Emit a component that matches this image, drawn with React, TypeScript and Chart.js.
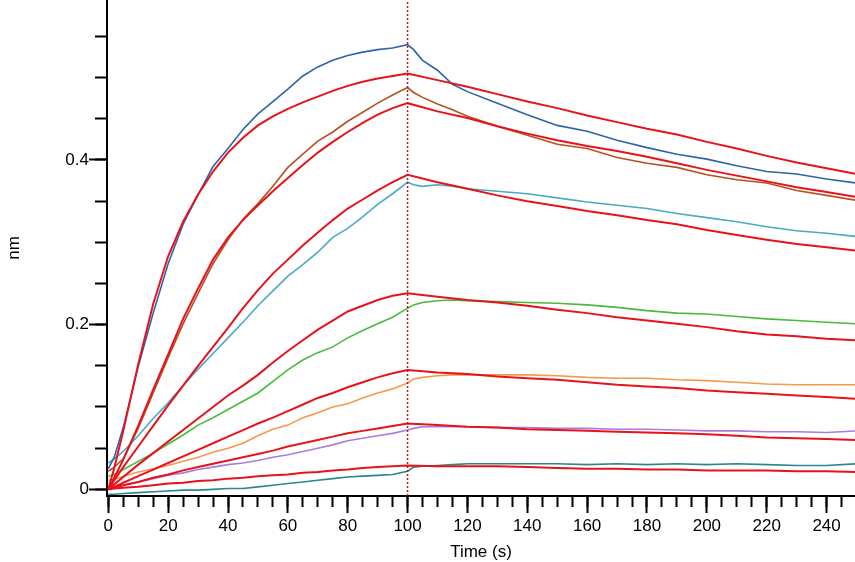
import React, { useEffect, useRef } from 'react';
import { Chart, registerables } from 'chart.js';

Chart.register(...registerables);

// ---- axis ranges / ticks ----
const X_MIN = -0.43;
const X_MAX = 249.5;
const Y_MIN = -0.0081;
const Y_MAX = 0.5943;
const X_MINOR_STEP = 5;
const X_MAJOR_STEP = 20;
const Y_MINOR_STEP = 0.05;
const Y_MAJOR_STEP = 0.2;
const X_TITLE = 'Time (s)';
const Y_TITLE = 'nm';
const STEP_TIME = 100; // association -> dissociation switch

// ---- fitted curves (red) ----
const FIT_T = [0, 2, 5, 10, 15, 20, 25, 30, 35, 40, 45, 50, 55, 60, 65, 70, 75, 80, 85, 90, 95, 100,
  110, 120, 130, 140, 150, 160, 170, 180, 190, 200, 210, 220, 230, 240, 250];
const fit1 = [0, .026, .071, .152, .225, .283, .325, .358, .386, .409, .427, .442, .453, .462, .470, .477, .484, .490, .495, .499, .502, .505,
  .497, .489, .480, .471, .463, .454, .446, .438, .431, .422, .414, .405, .397, .390, .383];
const fit2 = [0, .014, .036, .077, .121, .164, .207, .244, .279, .306, .327, .345, .362, .378, .394, .409, .422, .434, .445, .455, .463, .469,
  .459, .451, .441, .432, .424, .417, .411, .404, .396, .388, .381, .374, .367, .361, .355];
const fit3 = [0, .011, .027, .052, .077, .102, .126, .150, .173, .196, .220, .242, .262, .279, .296, .312, .327, .341, .352, .363, .373, .382,
  .373, .365, .357, .350, .344, .338, .333, .327, .322, .315, .309, .303, .298, .294, .290];
const fit4 = [0, .006, .015, .030, .044, .058, .072, .086, .100, .114, .126, .139, .154, .168, .181, .194, .205, .216, .223, .230, .235, .238,
  .234, .230, .227, .223, .218, .214, .209, .205, .201, .197, .192, .188, .186, .183, .181];
const fit5 = [0, .003, .008, .016, .024, .032, .040, .048, .056, .064, .072, .080, .087, .095, .103, .111, .117, .124, .130, .136, .141, .145,
  .142, .140, .137, .135, .133, .130, .127, .125, .123, .120, .118, .116, .114, .112, .110];
const fit6 = [0, .002, .005, .009, .014, .018, .023, .027, .031, .035, .039, .043, .047, .052, .056, .060, .064, .068, .071, .074, .077, .080,
  .078, .076, .075, .073, .072, .071, .070, .069, .068, .067, .065, .063, .062, .061, .060];
const fit7 = [0, .001, .002, .003, .005, .007, .008, .010, .011, .013, .014, .016, .017, .018, .020, .021, .023, .024, .026, .027, .028, .029,
  .028, .028, .028, .027, .026, .025, .025, .024, .024, .023, .023, .023, .022, .022, .021];

// ---- measured curves ----
const MEAS_T = [0, 2, 5, 10, 15, 20, 25, 30, 35, 40, 45, 50, 55, 60, 65, 70, 75, 80, 85, 90, 95, 100,
  102, 105, 110, 115, 120, 130, 140, 150, 160, 170, 180, 190, 200, 210, 220, 230, 240, 250];
const blue = [.025, .039, .075, .149, .214, .274, .322, .358, .392, .414, .437, .456, .471, .486, .502, .513, .521, .527, .531, .534, .536, .540,
  .534, .521, .509, .492, .483, .469, .455, .442, .435, .424, .415, .407, .401, .393, .386, .383, .377, .372];
const brown = [.022, .027, .037, .074, .117, .160, .201, .238, .274, .303, .328, .347, .368, .391, .407, .423, .434, .447, .458, .469, .479, .488,
  .482, .476, .468, .461, .453, .441, .430, .419, .414, .403, .396, .391, .382, .376, .372, .363, .357, .351];
const cyan = [.032, .037, .046, .065, .086, .105, .126, .146, .165, .184, .203, .223, .241, .259, .273, .288, .306, .317, .331, .346, .359, .373,
  .370, .368, .370, .368, .365, .362, .359, .354, .349, .345, .341, .335, .330, .325, .319, .314, .311, .307];
const green = [.016, .018, .024, .034, .044, .055, .066, .078, .087, .097, .107, .117, .131, .145, .157, .166, .173, .184, .193, .201, .209, .220,
  .224, .227, .229, .230, .229, .228, .227, .226, .224, .221, .217, .214, .213, .210, .207, .205, .203, .201];
const orange = [.011, .012, .016, .021, .025, .029, .034, .039, .045, .050, .056, .065, .073, .078, .087, .093, .100, .104, .111, .117, .122, .129,
  .134, .136, .138, .139, .139, .139, .139, .138, .136, .135, .135, .133, .132, .130, .128, .127, .127, .127];
const purple = [.003, .003, .005, .009, .013, .017, .020, .024, .027, .030, .032, .035, .039, .042, .046, .050, .054, .059, .062, .065, .068, .072,
  .074, .076, .076, .076, .076, .075, .075, .074, .074, .073, .073, .072, .071, .071, .070, .070, .069, .071];
const teal = [-.006, -.006, -.005, -.004, -.003, -.002, -.001, -.001, 0, .001, .001, .003, .005, .007, .009, .011, .013, .015, .016, .017, .018, .022,
  .027, .028, .029, .030, .031, .031, .031, .031, .030, .031, .030, .031, .030, .031, .030, .029, .029, .031];

const FITS = [fit1, fit2, fit3, fit4, fit5, fit6, fit7];
const MEASURED = [blue, brown, cyan, green, orange, purple, teal];
const MEAS_COLORS = ['#2f62ad', '#b4521f', '#4aaac2', '#48bb3a', '#f5994a', '#a87ddf', '#2b8789'];
const FIT_COLOR = '#e8121a';
const STEP_COLOR = '#b4161b';

export default function App() {
  const ref = useRef<HTMLCanvasElement>(null);

  useEffect(() => {
    const canvas = ref.current;
    if (!canvas) return;
    Chart.defaults.font.family = "'Liberation Sans', Arial, sans-serif";
    Chart.defaults.color = '#000';

    const toPts = (ts: number[], vs: number[]) => ts.map((t, i) => ({ x: t, y: vs[i] }));

    const datasets: any[] = [];
    datasets.push({
      data: [{ x: STEP_TIME, y: Y_MIN }, { x: STEP_TIME, y: Y_MAX }],
      borderColor: STEP_COLOR,
      borderWidth: 1.5,
      borderDash: [2, 2],
      pointRadius: 0,
      fill: false,
    });
    FITS.forEach((f) => {
      datasets.push({
        data: toPts(FIT_T, f),
        borderColor: FIT_COLOR,
        borderWidth: 2,
        pointRadius: 0,
        tension: 0,
        fill: false,
      });
    });
    MEASURED.forEach((m, i) => {
      datasets.push({
        data: toPts(MEAS_T, m),
        borderColor: MEAS_COLORS[i],
        borderWidth: 1.6,
        pointRadius: 0,
        tension: 0,
        fill: false,
      });
    });

    const tickFont = { size: 17, family: "'Liberation Sans', Arial, sans-serif" };
    const noPad = (s: any) => { s.paddingTop = 0; s.paddingBottom = 0; s.paddingLeft = 0; s.paddingRight = 0; };

    const chart = new Chart(canvas, {
      type: 'line',
      data: { datasets },
      options: {
        responsive: false,
        animation: false,
        events: [],
        layout: { padding: 0 },
        plugins: { legend: { display: false }, tooltip: { enabled: false } },
        scales: {
          x: {
            type: 'linear', position: 'bottom', min: X_MIN, max: X_MAX, weight: 0,
            ticks: { display: false, stepSize: X_MINOR_STEP, includeBounds: false },
            grid: { drawOnChartArea: false, drawTicks: true, tickLength: 11, tickWidth: 2, tickColor: '#000' },
            border: { display: false },
            afterFit: (s: any) => { s.height = 0; noPad(s); },
          },
          x2: {
            type: 'linear', position: 'bottom', min: X_MIN, max: X_MAX, weight: 1,
            ticks: { stepSize: X_MAJOR_STEP, includeBounds: false, autoSkip: false, maxRotation: 0, padding: 3, color: '#000', font: tickFont },
            grid: { drawOnChartArea: false, drawTicks: true, tickLength: 17, tickWidth: 2, tickColor: '#000' },
            border: { display: true, color: '#000', width: 2 },
            title: { display: true, text: X_TITLE, color: '#000', font: tickFont, padding: { top: 0, bottom: -1 } },
            afterFit: (s: any) => { s.height = 66; noPad(s); },
          },
          y: {
            type: 'linear', position: 'left', min: Y_MIN, max: Y_MAX, weight: 0,
            ticks: { display: false, stepSize: Y_MINOR_STEP, includeBounds: false },
            grid: { drawOnChartArea: false, drawTicks: true, tickLength: 12, tickWidth: 2, tickColor: '#000' },
            border: { display: false },
            afterFit: (s: any) => { s.width = 0; noPad(s); },
          },
          y2: {
            type: 'linear', position: 'left', min: Y_MIN, max: Y_MAX, weight: 1,
            ticks: { stepSize: Y_MAJOR_STEP, includeBounds: false, autoSkip: false, padding: 0, color: '#000', font: tickFont },
            grid: { drawOnChartArea: false, drawTicks: true, tickLength: 18, tickWidth: 2, tickColor: '#000' },
            border: { display: true, color: '#000', width: 2 },
            title: { display: true, text: Y_TITLE, color: '#000', font: tickFont, padding: { top: 4, bottom: 0 } },
            afterFit: (s: any) => { s.width = 107; noPad(s); },
          },
        },
      } as any,
    });
    return () => chart.destroy();
  }, []);

  return (
    <div style={{ position: 'fixed', left: 0, top: 0, width: 855, height: 562, background: '#fff' }}>
      <canvas ref={ref} width={855} height={562} style={{ display: 'block', width: 855, height: 562 }} />
    </div>
  );
}
